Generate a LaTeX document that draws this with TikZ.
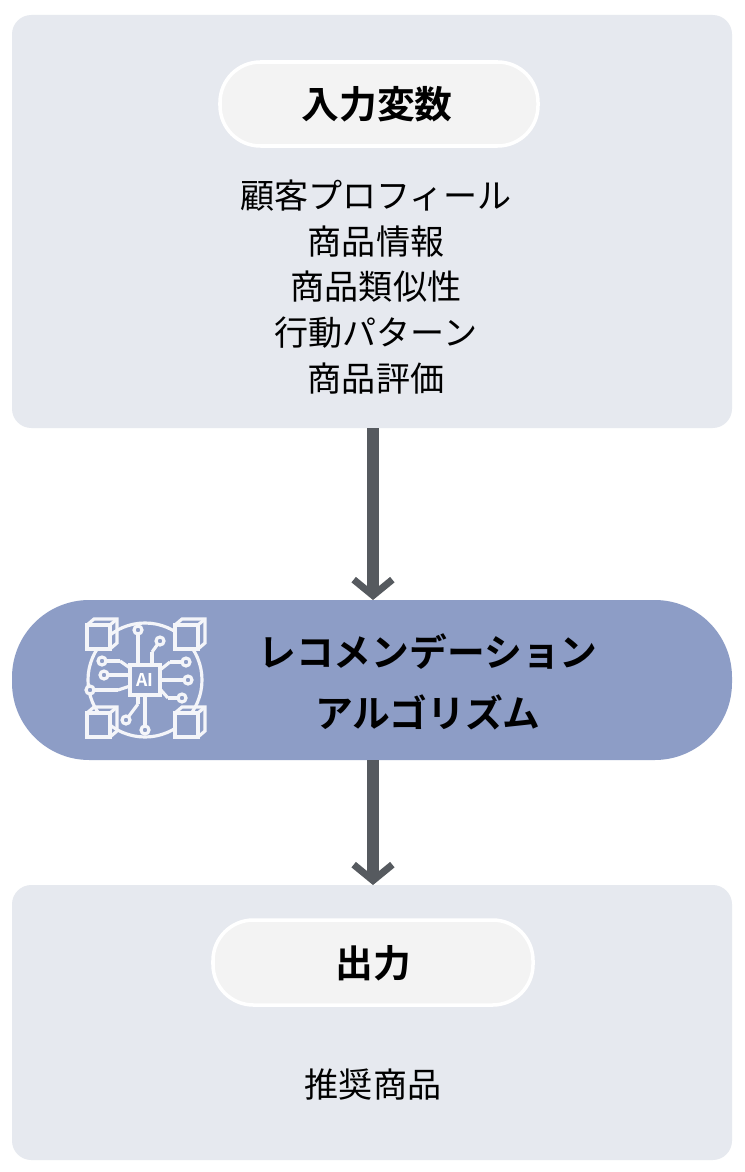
\documentclass[tikz,border=0pt]{standalone}
\usepackage{fontspec}
\setmainfont{Noto Sans CJK JP}[BoldFont={Noto Sans CJK JP Bold}]
\usetikzlibrary{positioning}
\definecolor{panelgray}{HTML}{E6E9EF}
\definecolor{pillgray}{HTML}{F3F3F3}
\definecolor{algoblue}{HTML}{8D9DC6}
\definecolor{arrowgray}{HTML}{565A5F}
\tikzset{
  panel/.style={fill=panelgray, rounded corners=11pt},
  pill/.style={fill=pillgray, draw=white, line width=2pt, rounded corners=23pt},
  head/.style={font=\fontsize{21.5}{24}\selectfont\bfseries},
  body/.style={font=\fontsize{19.4}{26}\selectfont, align=center},
  flow/.style={arrowgray, line width=7pt, -{Straight Barb[length=9pt,width=22pt,line width=4pt]}},
  icon/.style={white!90!algoblue, line width=1.8pt}
}
\usetikzlibrary{arrows.meta}
\begin{document}
\begin{tikzpicture}[x=0.02cm,y=-0.02cm]
	\useasboundingbox (0,0) rectangle (744,1172);
	\fill[white] (0,0) rectangle (744,1172);
	
	% input panel
	\fill[panel] (12,15) rectangle (732,428);
	\draw[pill] (220,62) rectangle (538,146);
	\node[head] (inhead) at (377,104) {入力変数};
	\node[body] (inlist) at (376,287) {顧客プロフィール\\商品情報\\商品類似性\\行動パターン\\商品評価};
	\coordinate (inbot) at (373,428);
	
	% algorithm
	\fill[algoblue, rounded corners=44pt] (12,600) rectangle (732,760);
	\node[head, align=center, font=\fontsize{21.5}{35}\selectfont\bfseries] (algo) at (428,682) {レコメンデーション\\アルゴリズム};
	\coordinate (algotop) at (373,600);
	\coordinate (algobot) at (373,760);
	
	% icon
	\begin{scope}[icon]
		\draw (145,680) circle (57);
		\draw[fill=algoblue] (130,665) rectangle (160,695);
		\node[white, font=\fontsize{10}{10}\selectfont\bfseries] (ai) at (145,680) {AI};
		\foreach \cx/\cy in {101/636, 189/636, 101/724, 189/724}{
			\draw[fill=algoblue] (\cx-14,\cy-11) rectangle (\cx+9,\cy+13);
			\draw (\cx-14,\cy-11) -- (\cx-7,\cy-17) -- (\cx+16,\cy-17) -- (\cx+16,\cy+7) -- (\cx+9,\cy+13);
			\draw (\cx+9,\cy-11) -- (\cx+16,\cy-17);
		}
		\foreach \ex/\ey/\kx/\ky in {138/630/138/650, 160/641/152/652, 126/720/138/704, 145/730/145/695,
			102/661/120/661, 104/675/130/675, 90/690/118/690, 186/662/170/662, 188/680/160/680, 182/698/168/698}{
			\draw (\kx,\ky) -- (\ex,\ey);
			\draw[fill=algoblue] (\ex,\ey) circle (4);
		}
		\draw (138,650) -- (138,665) (152,652) -- (152,665) (138,704) -- (138,695);
		\draw (120,661) -- (130,668) (118,690) -- (130,686) (170,662) -- (160,670) (168,698) -- (160,689);
	\end{scope}
	
	% output panel
	\fill[panel] (12,885) rectangle (732,1160);
	\draw[pill] (213,920) rectangle (533,1005);
	\node[head] (outhead) at (373,963) {出力};
	\node[body] (outlist) at (373,1085) {推奨商品};
	\coordinate (outtop) at (373,885);
	
	\draw[flow] (inbot) -- (algotop);
	\draw[flow] (algobot) -- (outtop);
\end{tikzpicture}
\end{document}
